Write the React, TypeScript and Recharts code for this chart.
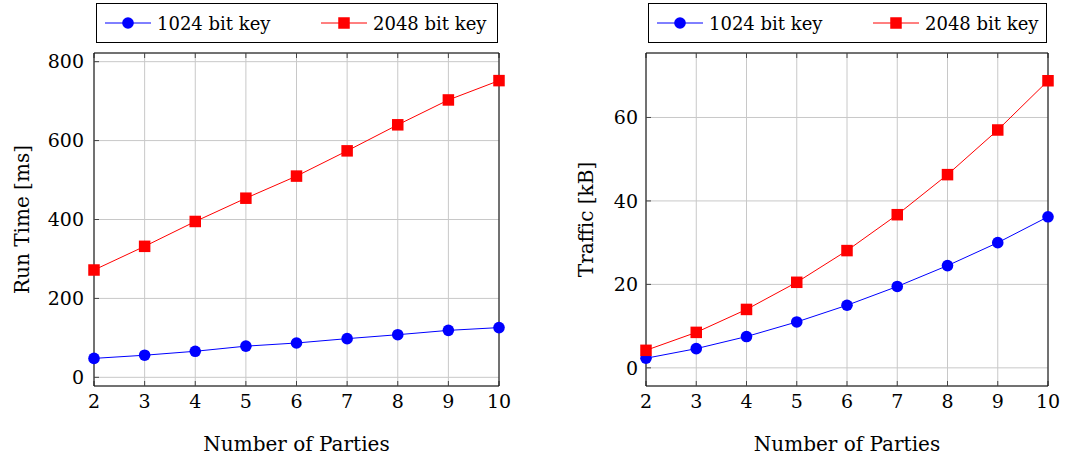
import React from "react";
import { LineChart, Line, XAxis, YAxis, CartesianGrid, Legend, Label } from "recharts";

const parties = [2, 3, 4, 5, 6, 7, 8, 9, 10];
const seriesNames = ["1024 bit key", "2048 bit key"];
const runTime1024 = [48, 56, 66, 79, 87, 98, 108, 119, 126];
const runTime2048 = [272, 332, 395, 454, 510, 574, 640, 703, 752];
const traffic1024 = [2.3, 4.6, 7.5, 11.0, 15.0, 19.5, 24.5, 30.0, 36.2];
const traffic2048 = [4.2, 8.5, 14.0, 20.5, 28.1, 36.7, 46.3, 57.0, 68.8];
const runTimeTicks = [0, 200, 400, 600, 800];
const trafficTicks = [0, 20, 40, 60];

const FONT = "'DejaVu Serif', 'Liberation Serif', serif";
const BLUE = "#0000ff";
const RED = "#ff0000";

const runTimeData = parties.map((p, i) => ({ parties: p, k1024: runTime1024[i], k2048: runTime2048[i] }));
const trafficData = parties.map((p, i) => ({ parties: p, k1024: traffic1024[i], k2048: traffic2048[i] }));

const Square = (props: any) => {
  const { cx, cy, index } = props;
  if (cx == null || cy == null) return <g key={`sq-${index}`} />;
  return <rect key={`sq-${index}`} x={cx - 5.75} y={cy - 5.75} width={11.5} height={11.5} fill={RED} />;
};

const LegendBox = ({ payload }: any) => (
  <div
    style={{
      position: "relative",
      width: "100%",
      height: 40,
      boxSizing: "border-box",
      border: "1px solid #000",
      fontFamily: FONT,
      fontSize: 18,
    }}
  >
    {(payload || []).map((entry: any, i: number) => (
      <div
        key={entry.value}
        style={{ position: "absolute", left: i === 0 ? 8 : 224, top: 0, height: 38, display: "flex", alignItems: "center" }}
      >
        <svg width={46} height={14} style={{ marginRight: 6 }}>
          <line x1={0} y1={7} x2={46} y2={7} stroke={entry.color} strokeWidth={1} />
          {entry.type === "square" ? (
            <rect x={17.25} y={1.25} width={11.5} height={11.5} fill={entry.color} />
          ) : (
            <circle cx={23} cy={7} r={5.8} fill={entry.color} />
          )}
        </svg>
        <span style={{ color: "#000" }}>{entry.value}</span>
      </div>
    ))}
  </div>
);

const tickStyle = { fill: "#000", fontSize: 19, fontFamily: FONT };

function Panel(props: {
  data: any[];
  yTicks: number[];
  yDomain: [number, number];
  yLabel: string;
  width: number;
  yAxisWidth: number;
  marginRight: number;
  yLabelX: number;
  yTickMargin: number;
  legendLeft: number;
  legendWidth: number;
}) {
  const { data, yTicks, yDomain, yLabel, width, yAxisWidth, marginRight, yLabelX, yTickMargin, legendLeft, legendWidth } = props;
  return (
    <LineChart width={width} height={459} data={data} margin={{ top: 52, right: marginRight, bottom: 0, left: 0 }}>
      <CartesianGrid stroke="#c8c8c8" strokeWidth={1} />
      <XAxis
        dataKey="parties"
        type="number"
        domain={[2, 10]}
        ticks={parties}
        height={73}
        tick={tickStyle}
        tickSize={-5}
        tickMargin={14}
        axisLine={{ stroke: "#000" }}
        tickLine={{ stroke: "#444" }}
      >
        <Label
          content={({ viewBox }: any) => (
            <text
              x={viewBox.x + viewBox.width / 2}
              y={viewBox.y + 65}
              textAnchor="middle"
              fontFamily={FONT}
              fontSize={20}
              fill="#000"
            >
              Number of Parties
            </text>
          )}
        />
      </XAxis>
      <XAxis
        xAxisId="top"
        orientation="top"
        dataKey="parties"
        type="number"
        domain={[2, 10]}
        ticks={parties}
        height={1}
        tickFormatter={() => ""}
        tickSize={-5}
        axisLine={{ stroke: "#000" }}
        tickLine={{ stroke: "#444" }}
      />
      <YAxis
        type="number"
        domain={yDomain}
        ticks={yTicks}
        width={yAxisWidth}
        tick={tickStyle}
        tickSize={-5}
        tickMargin={yTickMargin}
        axisLine={{ stroke: "#000" }}
        tickLine={{ stroke: "#444" }}
      >
        <Label
          content={({ viewBox }: any) => {
            const cy = viewBox.y + viewBox.height / 2;
            const x = viewBox.x + yLabelX;
            return (
              <text
                x={x}
                y={cy}
                transform={`rotate(-90, ${x}, ${cy})`}
                textAnchor="middle"
                fontFamily={FONT}
                fontSize={20}
                fill="#000"
              >
                {yLabel}
              </text>
            );
          }}
        />
      </YAxis>
      <YAxis
        yAxisId="right"
        orientation="right"
        type="number"
        domain={yDomain}
        ticks={yTicks}
        width={1}
        tickFormatter={() => ""}
        tickSize={-5}
        axisLine={{ stroke: "#000" }}
        tickLine={{ stroke: "#444" }}
      />
      <Legend
        layout="horizontal"
        verticalAlign="middle"
        align="center"
        wrapperStyle={{ top: 3, left: legendLeft, width: legendWidth, height: 40 }}
        content={<LegendBox />}
      />
      <Line
        name={seriesNames[0]}
        dataKey="k1024"
        stroke={BLUE}
        strokeWidth={1}
        legendType="circle"
        dot={{ r: 5.8, fill: BLUE, stroke: BLUE, strokeWidth: 0 }}
        activeDot={false}
        isAnimationActive={false}
      />
      <Line
        name={seriesNames[1]}
        dataKey="k2048"
        stroke={RED}
        strokeWidth={1}
        legendType="square"
        dot={Square}
        activeDot={false}
        isAnimationActive={false}
      />
    </LineChart>
  );
}

export default function App() {
  return (
    <div style={{ position: "absolute", left: 0, top: 0, width: 1067, height: 459, background: "#fff", fontFamily: FONT }}>
      <div style={{ position: "absolute", left: 0, top: 0 }}>
        <Panel
          data={runTimeData}
          yTicks={runTimeTicks}
          yDomain={[-22, 822]}
          yLabel="Run Time [ms]"
          width={540}
          yAxisWidth={94}
          marginRight={40}
          yLabelX={29}
          yTickMargin={15}
          legendLeft={96}
          legendWidth={402}
        />
      </div>
      <div style={{ position: "absolute", left: 540, top: 0 }}>
        <Panel
          data={trafficData}
          yTicks={trafficTicks}
          yDomain={[-4.35, 75.45]}
          yLabel="Traffic [kB]"
          width={527}
          yAxisWidth={106}
          marginRight={18}
          yLabelX={53}
          yTickMargin={13}
          legendLeft={108}
          legendWidth={399}
        />
      </div>
    </div>
  );
}
